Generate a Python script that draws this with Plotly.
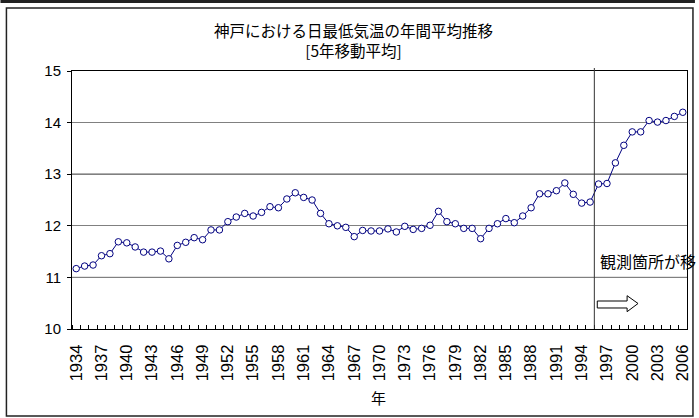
import plotly.graph_objects as go

years = list(range(1934, 2007))
temps = [
    11.17, 11.22, 11.24, 11.42, 11.46, 11.69, 11.67, 11.59, 11.49, 11.49,
    11.51, 11.36, 11.62, 11.68, 11.77, 11.73, 11.92, 11.92, 12.08, 12.17,
    12.24, 12.19, 12.26, 12.37, 12.35, 12.52, 12.64, 12.55, 12.50, 12.24,
    12.04, 12.00, 11.97, 11.79, 11.91, 11.90, 11.90, 11.94, 11.88, 11.99,
    11.93, 11.95, 12.01, 12.28, 12.08, 12.04, 11.95, 11.95, 11.75, 11.95,
    12.04, 12.14, 12.06, 12.19, 12.35, 12.62, 12.62, 12.68, 12.83, 12.61,
    12.44, 12.46, 12.81, 12.82, 13.22, 13.56, 13.82, 13.82, 14.04, 14.01,
    14.04, 14.12, 14.20,
]
tick_years = years[::3]
tick_labels = [str(y) for y in tick_years]
y_ticks = [10, 11, 12, 13, 14, 15]
move_year = 1995.5

title1 = "神戸における日最低気温の年間平均推移"
title2 = "[5年移動平均]"
x_title = "年"
note = "観測箇所が移"

FONT = "Arial, 'Liberation Sans', 'Noto Sans CJK JP', sans-serif"
JFONT = "'Noto Sans CJK JP', Arial, sans-serif"
NAVY = "#000080"

W, H = 699, 418
L, R, T, B = 72, 8, 71, 89
PW, PH = W - L - R, H - T - B


def px(x):
    return (x - L) / PW


def py(y):
    return (H - B - y) / PH


fig = go.Figure()
fig.add_trace(go.Scatter(
    x=years, y=temps, mode="lines+markers",
    line=dict(color=NAVY, width=1),
    marker=dict(symbol="circle", size=6.5, color="white",
                line=dict(color=NAVY, width=1)),
    showlegend=False, hoverinfo="x+y",
))

shapes = []
for v in (11, 13):
    shapes.append(dict(type="line", xref="paper", yref="y", x0=0, x1=1, y0=v, y1=v,
                       line=dict(color="black", width=1), layer="below"))
shapes.append(dict(type="line", xref="x", yref="paper", x0=move_year, x1=move_year,
                   y0=0, y1=py(68), line=dict(color="#333333", width=1)))
pts = [(600.7, 301), (630.7, 301), (630.7, 295.7), (641.7, 303.5),
       (630.7, 311.7), (630.7, 308), (600.7, 308)]
path = "M " + " L ".join(f"{px(a):.4f},{py(b):.4f}" for a, b in pts) + " Z"
shapes.append(dict(type="path", xref="paper", yref="paper", path=path,
                   line=dict(color="black", width=1), fillcolor="white"))
shapes.append(dict(type="rect", xref="paper", yref="paper",
                   x0=px(6), x1=px(697), y0=py(416), y1=py(8),
                   line=dict(color="#222222", width=1.5)))
shapes.append(dict(type="line", xref="paper", yref="paper",
                   x0=px(0), x1=px(699), y0=py(1.5), y1=py(1.5),
                   line=dict(color="#222222", width=3)))

annotations = [
    dict(text=title1 + "<br>" + title2, xref="paper", yref="paper", x=px(355), y=py(39.5),
         showarrow=False, font=dict(family=JFONT, size=15.5, color="black"),
         xanchor="center", yanchor="middle", align="center"),
    dict(text=x_title, xref="paper", yref="paper", x=px(380), y=py(397),
         showarrow=False, font=dict(family=JFONT, size=15, color="black"),
         xanchor="center", yanchor="middle"),
    dict(text=note, xref="paper", yref="paper", x=px(601), y=py(261),
         showarrow=False, font=dict(family=JFONT, size=16, color="black"),
         xanchor="left", yanchor="middle"),
]

fig.update_layout(
    width=W, height=H,
    margin=dict(l=L, r=R, t=T, b=B, pad=0),
    paper_bgcolor="white", plot_bgcolor="white",
    font=dict(family=FONT, size=15, color="black"),
    shapes=shapes, annotations=annotations,
    showlegend=False,
    xaxis=dict(
        range=[1933.5, 2006.5], tickmode="array", tickvals=tick_years,
        ticktext=tick_labels, tickangle=-90, ticks="",
        ticklabelstandoff=8,
        showline=True, linecolor="black", linewidth=1, mirror=True,
        showgrid=False, zeroline=False,
        tickfont=dict(family=FONT, size=16.5),
        minor=dict(ticks="inside", ticklen=4, tick0=1933.5, dtick=1,
                   tickcolor="black", showgrid=False),
    ),
    yaxis=dict(
        range=[10, 15], tickmode="array", tickvals=y_ticks,
        ticks="outside", ticklen=4, tickcolor="black",
        ticklabelstandoff=3,
        showline=True, linecolor="black", linewidth=1, mirror=True,
        showgrid=True, gridcolor="#808080", gridwidth=1, zeroline=False,
        tickfont=dict(family=FONT, size=15),
    ),
)

fig.write_html(
    "out.html",
    config={"displayModeBar": False},
    post_script="document.body.style.margin='0';document.body.style.overflow='hidden';",
)
